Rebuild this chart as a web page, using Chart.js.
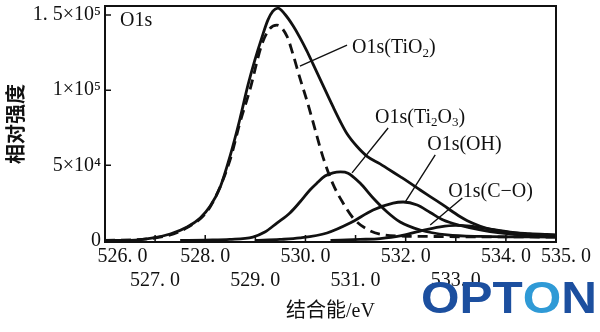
<!DOCTYPE html>
<html>
<head>
<meta charset="utf-8">
<script src="https://cdn.jsdelivr.net/npm/chart.js@4.4.1/dist/chart.umd.min.js"></script>
<style>
  body { margin: 0; background: #fff; }
  canvas { display: block; }
</style>
</head>
<body>
<canvas id="xpsChart" width="600" height="332"></canvas>
<script>
// tick values and labels
const xTickValues = [526, 527, 528, 529, 530, 531, 532, 533, 534, 535];
const xTickLabels = ['526. 0', '527. 0', '528. 0', '529. 0', '530. 0', '531. 0', '532. 0', '533. 0', '534. 0', '535. 0'];
const yTickValues = [0, 50000, 100000, 150000];
const yTickLabels = ['0', '5×10⁴', '1×10⁵', '1. 5×10⁵'];

// measured envelope (solid)
const totalEnergy = [526.0, 526.5, 526.96, 527.3, 527.64, 527.9, 528.1, 528.3, 528.49, 528.69, 528.85, 528.99, 529.13, 529.25, 529.35, 529.45, 529.59, 529.75, 529.89, 530.03, 530.15, 530.29, 530.43, 530.55, 530.69, 530.83, 531.03, 531.23, 531.49, 531.63, 531.89, 532.03, 532.29, 532.43, 532.69, 532.83, 533.09, 533.23, 533.49, 533.62, 534.02, 534.48, 534.82, 535.0];
const totalCounts = [0, 100, 1700, 4300, 9000, 15000, 22900, 35600, 55500, 80500, 103000, 120000, 135000, 146600, 152600, 154600, 150500, 143000, 135000, 126000, 117500, 107500, 97500, 89000, 79500, 71000, 62500, 56000, 51000, 48000, 42500, 39500, 33600, 30500, 24900, 21600, 15800, 13200, 9500, 8000, 5600, 4500, 4000, 3800];

// fitted components
const tio2Energy = [526.0, 526.96, 527.64, 528.1, 528.49, 528.69, 528.89, 529.13, 529.29, 529.43, 529.63, 529.75, 529.89, 530.03, 530.15, 530.35, 530.55, 530.75, 530.95, 531.23, 531.55, 531.89, 532.49, 533.09, 534.0, 535.0];
const tio2Counts = [0, 1500, 8600, 22500, 53000, 78000, 100000, 130500, 141000, 143300, 136000, 124000, 108000, 93000, 79000, 55500, 37500, 25000, 15000, 7500, 3800, 3000, 2700, 2500, 2400, 2300];

const ti2o3Energy = [527.5, 528.0, 528.49, 528.95, 529.19, 529.43, 529.69, 529.89, 530.09, 530.23, 530.39, 530.55, 530.7, 530.85, 531.09, 531.35, 531.63, 531.89, 532.29, 532.83, 533.49, 535.0];
const ti2o3Counts = [0, 300, 700, 2300, 5600, 11600, 18300, 25600, 33600, 38200, 42900, 45000, 45600, 44800, 38200, 28300, 19000, 12300, 7000, 3700, 2700, 2300];

const ohEnergy = [529.0, 529.49, 529.89, 530.43, 530.89, 531.35, 531.75, 531.95, 532.23, 532.49, 532.75, 533.09, 533.49, 533.88, 534.48, 535.0];
const ohCounts = [0, 700, 1700, 5000, 11600, 20300, 24900, 25600, 23600, 18600, 13600, 10000, 7000, 5000, 3300, 2700];

const coEnergy = [530.5, 531.09, 531.49, 531.89, 532.29, 532.69, 532.99, 533.29, 533.68, 534.08, 534.48, 535.0];
const coCounts = [0, 700, 1300, 3000, 6300, 9000, 10000, 9600, 7600, 5600, 4000, 3000];

// callout labels (text, anchor in data units, leader line from curve to label)
const calloutTexts = ['O1s(TiO_2)', 'O1s(Ti_2O_3)', 'O1s(OH)', 'O1s(C−O)'];
const calloutEnergy = [530.93, 531.39, 532.43, 532.85];
const calloutCounts = [128000, 81500, 63500, 32300];
const leaderStartEnergy = [529.89, 530.93, 531.99, 532.49];
const leaderStartCounts = [116000, 45000, 25600, 10300];
const leaderEndEnergy = [530.83, 531.65, 532.59, 533.13];
const leaderEndCounts = [130000, 74800, 56900, 28300];

const serif = "'Liberation Serif', 'Times New Roman', 'Noto Sans CJK SC', serif";
const ink = '#111';
const nbsp = '\u00A0';

function toPoints(xs, ys) {
    return xs.map((x, i) => ({ x: x, y: ys[i] }));
}

function drawRich(ctx, text, x, y) {
    let cx = x;
    text.split(/(_\d)/).forEach(part => {
        if (!part) return;
        if (part[0] === '_') {
            ctx.font = '13px ' + serif;
            ctx.fillText(part[1], cx, y + 5);
            cx += ctx.measureText(part[1]).width;
        } else {
            ctx.font = '20px ' + serif;
            ctx.fillText(part, cx, y);
            cx += ctx.measureText(part).width;
        }
    });
}

const decorations = {
    id: 'decorations',
    afterDatasetsDraw(chart) {
        const { ctx, chartArea: a, scales: { x, y } } = chart;
        ctx.save();
        ctx.strokeStyle = ink;
        ctx.fillStyle = ink;

        // frame and inward ticks
        ctx.lineWidth = 2;
        ctx.strokeRect(a.left, a.top, a.right - a.left, a.bottom - a.top);
        ctx.lineWidth = 1.5;
        ctx.beginPath();
        xTickValues.slice(1, -1).forEach(v => {
            const px = x.getPixelForValue(v);
            ctx.moveTo(px, a.bottom);
            ctx.lineTo(px, a.bottom - 7);
        });
        yTickValues.slice(1).forEach(v => {
            const py = y.getPixelForValue(v);
            ctx.moveTo(a.left, py);
            ctx.lineTo(a.left + 6, py);
        });
        ctx.stroke();

        // leader lines
        ctx.lineWidth = 1.4;
        ctx.beginPath();
        leaderStartEnergy.forEach((e, i) => {
            ctx.moveTo(x.getPixelForValue(e), y.getPixelForValue(leaderStartCounts[i]));
            ctx.lineTo(x.getPixelForValue(leaderEndEnergy[i]), y.getPixelForValue(leaderEndCounts[i]));
        });
        ctx.stroke();

        // labels
        ctx.textBaseline = 'middle';
        ctx.textAlign = 'left';
        calloutTexts.forEach((t, i) => {
            drawRich(ctx, t, x.getPixelForValue(calloutEnergy[i]), y.getPixelForValue(calloutCounts[i]));
        });
        drawRich(ctx, 'O1s', x.getPixelForValue(526.3), y.getPixelForValue(146000));
        ctx.restore();
    },
    afterDraw(chart) {
        // watermark
        const ctx = chart.ctx;
        const letters = ['O', 'P', 'T', 'O', 'N'];
        const colors = ['#1c4f9f', '#1c4f9f', '#1c4f9f', '#2f9ad6', '#1c4f9f'];
        ctx.save();
        ctx.font = "bold 45px 'Liberation Sans', Arial, sans-serif";
        ctx.textBaseline = 'alphabetic';
        ctx.translate(421, 313);
        ctx.scale(1.1, 1);
        let cx = 0;
        letters.forEach((l, i) => {
            ctx.fillStyle = colors[i];
            ctx.fillText(l, cx, 0);
            cx += ctx.measureText(l).width;
        });
        ctx.restore();
    }
};

const lineStyle = { borderColor: ink, borderWidth: 2.8, pointRadius: 0, fill: false, cubicInterpolationMode: 'monotone' };

const ctx = document.getElementById('xpsChart').getContext('2d');
new Chart(ctx, {
    type: 'line',
    data: {
        datasets: [
            Object.assign({ label: 'O1s', data: toPoints(totalEnergy, totalCounts) }, lineStyle),
            Object.assign({ label: 'O1s(TiO2)', data: toPoints(tio2Energy, tio2Counts), borderDash: [10, 6] }, lineStyle),
            Object.assign({ label: 'O1s(Ti2O3)', data: toPoints(ti2o3Energy, ti2o3Counts) }, lineStyle),
            Object.assign({ label: 'O1s(OH)', data: toPoints(ohEnergy, ohCounts) }, lineStyle),
            Object.assign({ label: 'O1s(C-O)', data: toPoints(coEnergy, coCounts) }, lineStyle)
        ]
    },
    options: {
        responsive: false,
        animation: false,
        layout: { padding: { top: 6, right: 44, left: 0, bottom: 0 } },
        plugins: { legend: { display: false }, tooltip: { enabled: false } },
        scales: {
            x: {
                type: 'linear',
                min: 526,
                max: 535,
                afterBuildTicks: axis => { axis.ticks = xTickValues.map(v => ({ value: v })); },
                afterFit: axis => {
                    axis.height = 90;
                    axis.paddingLeft = 0;
                    axis.paddingRight = 0;
                },
                grid: { display: false, drawTicks: false },
                border: { display: false },
                ticks: {
                    autoSkip: false,
                    maxRotation: 0,
                    padding: 3,
                    color: ink,
                    font: { family: serif, size: 20 },
                    callback: (value, index) => {
                        let label = xTickLabels[index];
                        // end labels sit a little to the right of their ticks, as in the print
                        if (index === 0) label = nbsp.repeat(7) + label;
                        if (index === xTickValues.length - 1) label = nbsp.repeat(4) + label;
                        const lower = index % 2 === 1 && index !== xTickValues.length - 1;
                        return lower ? ['', label] : [label, ''];
                    }
                },
                title: {
                    display: true,
                    text: '结合能/eV',
                    color: ink,
                    font: { family: serif, size: 20 },
                    padding: { top: 0, bottom: 8 }
                }
            },
            y: {
                min: -1000,
                max: 156000,
                afterBuildTicks: axis => { axis.ticks = yTickValues.map(v => ({ value: v })); },
                afterFit: axis => {
                    axis.width = 105;
                    axis.paddingTop = 0;
                    axis.paddingBottom = 0;
                },
                grid: { display: false, drawTicks: false },
                border: { display: false },
                ticks: {
                    padding: 4,
                    color: ink,
                    font: { family: serif, size: 20 },
                    callback: (value, index) => yTickLabels[index]
                },
                title: {
                    display: true,
                    text: '相对强度',
                    color: ink,
                    font: { family: "'Noto Sans CJK SC', sans-serif", size: 20, weight: 'bold' },
                    padding: { top: 3, bottom: 0 }
                }
            }
        }
    },
    plugins: [decorations]
});
</script>
</body>
</html>
